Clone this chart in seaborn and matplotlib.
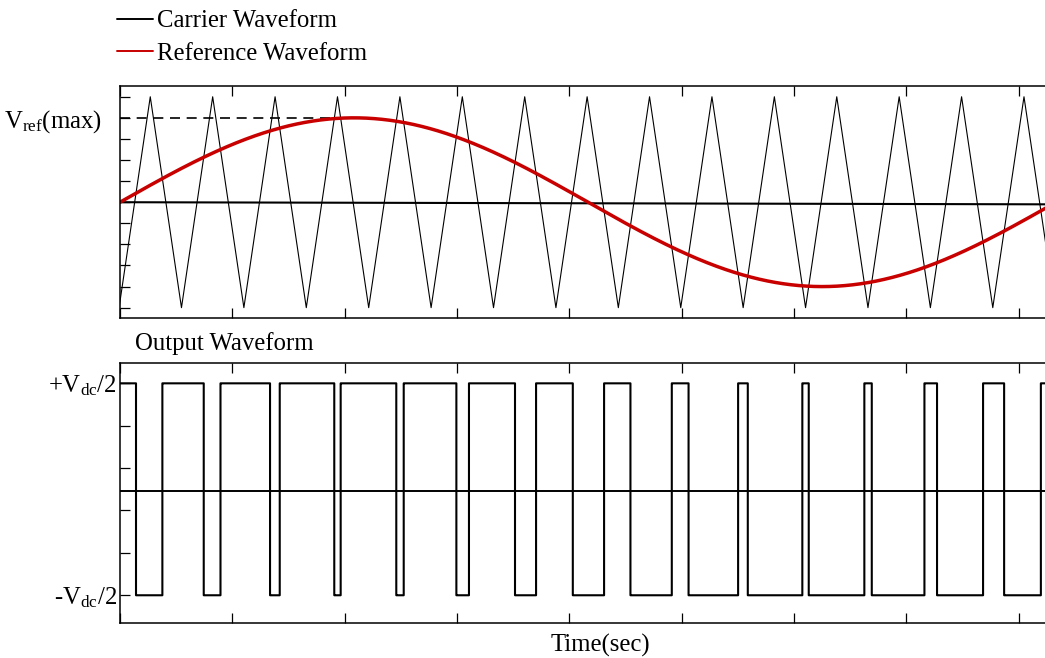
import numpy as np
import pandas as pd
import matplotlib
matplotlib.use("Agg")
import matplotlib.pyplot as plt
import seaborn as sns
from matplotlib.lines import Line2D

# ---------------- data ----------------
REF_AMPLITUDE = 4.0          # reference sine peak (Vref(max))
REF_FREQ_HZ = 50.0           # reference period 20 ms
CARRIER_AMPLITUDE = 5.0      # triangular carrier peak
CARRIER_FREQ_HZ = 750.0      # 15 carrier periods per reference period
CARRIER_FIRST_TROUGH_MS = -0.02
T_END_MS = 20.51             # right end of the (cropped) time axis
VREF_DASH_END_MS = 5.0       # dashed Vref(max) marker length
TOP_ZERO_LINE = [0.0, -0.104]   # slightly tilted zero line (start, end)
OUT_ZERO_LINE = -0.016
OUT_HIGH, OUT_LOW = 1.0, -1.0

X_TICKS = [0, 2.4, 4.8, 7.2, 9.6, 12.0, 14.4, 16.8, 19.2]
TOP_Y_TICKS = [-5, -4, -3, -2, -1, 0, 1, 2, 3, 4, 5]
TOP_Y_LABELS = ["", "", "", "", "", "", "", "", "", r"V$_{\mathrm{ref}}$(max)", ""]
OUT_Y_TICKS = [-1.0, -0.6, -0.2, 0.2, 0.6, 1.0]
OUT_Y_LABELS = [r"-V$_{\mathrm{dc}}$/2", "", "", "", "", r"+V$_{\mathrm{dc}}$/2"]

LEGEND_LABELS = ["Carrier Waveform", "Reference Waveform"]
OUTPUT_TITLE = "Output Waveform"
X_LABEL = "Time(sec)"

RED = "#c80000"

# ---------------- derived waveforms ----------------
tc = 1000.0 / CARRIER_FREQ_HZ
n_half = int(np.ceil((T_END_MS - CARRIER_FIRST_TROUGH_MS) / (tc / 2))) + 1
vert_t = CARRIER_FIRST_TROUGH_MS + np.arange(n_half + 1) * tc / 2
vert_v = np.where(np.arange(n_half + 1) % 2 == 0, -CARRIER_AMPLITUDE, CARRIER_AMPLITUDE)
carrier_df = pd.DataFrame({"t": vert_t, "v": vert_v})

t = np.linspace(0, T_END_MS, 80001)
ref = REF_AMPLITUDE * np.sin(2 * np.pi * REF_FREQ_HZ * t / 1000.0)
carrier_dense = np.interp(t, vert_t, vert_v)
out = np.where(ref >= carrier_dense, OUT_HIGH, OUT_LOW)
ref_df = pd.DataFrame({"t": t, "v": ref})
out_df = pd.DataFrame({"t": t, "v": out})

# ---------------- style ----------------
sns.set_theme(style="ticks")
plt.rcParams["font.family"] = ["Liberation Serif", "DejaVu Serif"]
plt.rcParams["mathtext.fontset"] = "custom"
plt.rcParams["mathtext.rm"] = "Liberation Serif"
plt.rcParams["mathtext.it"] = "Liberation Serif:italic"
plt.rcParams["axes.linewidth"] = 1.1
plt.rcParams["axes.edgecolor"] = "black"
for k in ["text.color", "axes.labelcolor", "xtick.color", "ytick.color"]:
    plt.rcParams[k] = "black"

FS = 17.8
W, H = 1045, 658
fig = plt.figure(figsize=(W / 100, H / 100), dpi=100)

def px_axes(left, top, right, bottom):
    return fig.add_axes([left / W, 1 - bottom / H, (right - left) / W, (bottom - top) / H])

ax1 = px_axes(120, 86, 1080, 318)
ax2 = px_axes(120, 363.3, 1080, 622.5)

# top panel
sns.lineplot(data=carrier_df, x="t", y="v", ax=ax1, color="black", lw=0.8,
             sort=False, estimator=None)
sns.lineplot(x=[0, T_END_MS], y=TOP_ZERO_LINE, ax=ax1, color="black", lw=1.5,
             sort=False, estimator=None)
sns.lineplot(x=[0, VREF_DASH_END_MS], y=[REF_AMPLITUDE, REF_AMPLITUDE], ax=ax1,
             color="black", lw=1.2, dashes=False, sort=False, estimator=None)
ax1.lines[-1].set_dashes((6, 4))
sns.lineplot(data=ref_df, x="t", y="v", ax=ax1, color=RED, lw=2.5,
             sort=False, estimator=None)
ax1.set_xlim(0, T_END_MS)
ax1.set_ylim(-5.49, 5.51)
ax1.set_xticks(X_TICKS)
ax1.set_xticklabels([])
ax1.set_yticks(TOP_Y_TICKS)
ax1.set_yticklabels(TOP_Y_LABELS, fontsize=FS)
ax1.tick_params(axis="x", direction="in", length=7, width=0.9, top=True, bottom=True)
ax1.tick_params(axis="y", direction="in", length=7, width=0.9, pad=13)
ax1.set_xlabel("")
ax1.set_ylabel("")
ax1.spines["right"].set_visible(False)

# bottom panel
sns.lineplot(x=[0, T_END_MS], y=[OUT_ZERO_LINE, OUT_ZERO_LINE], ax=ax2, color="black",
             lw=1.4, sort=False, estimator=None)
sns.lineplot(data=out_df, x="t", y="v", ax=ax2, color="black", lw=1.5,
             sort=False, estimator=None, drawstyle="steps-post")
ax2.set_xlim(0, T_END_MS)
ax2.set_ylim(-1.257, 1.189)
ax2.set_xticks(X_TICKS)
ax2.set_xticklabels([])
ax2.set_yticks(OUT_Y_TICKS)
ax2.set_yticklabels(OUT_Y_LABELS, fontsize=FS)
ax2.tick_params(axis="x", direction="in", length=7, width=0.9, top=True, bottom=True)
ax2.tick_params(axis="y", direction="in", length=7, width=0.9, pad=2)
ax2.set_ylabel("")
ax2.spines["right"].set_visible(False)
ax2.text(0.0156, 1.078, OUTPUT_TITLE, transform=ax2.transAxes, fontsize=FS,
         ha="left", va="center")
ax2.set_xlabel(X_LABEL, fontsize=FS, labelpad=5)

# legend
handles = [Line2D([], [], color="black", lw=1.4), Line2D([], [], color=RED, lw=1.4)]
fig.legend(handles, LEGEND_LABELS, loc="upper left", bbox_to_anchor=(117 / W, 1 - 10 / H),
           frameon=False, fontsize=FS, handlelength=1.45, handletextpad=0.15,
           labelspacing=0.42, borderpad=0, borderaxespad=0)

fig.savefig("out.png", dpi=100)
